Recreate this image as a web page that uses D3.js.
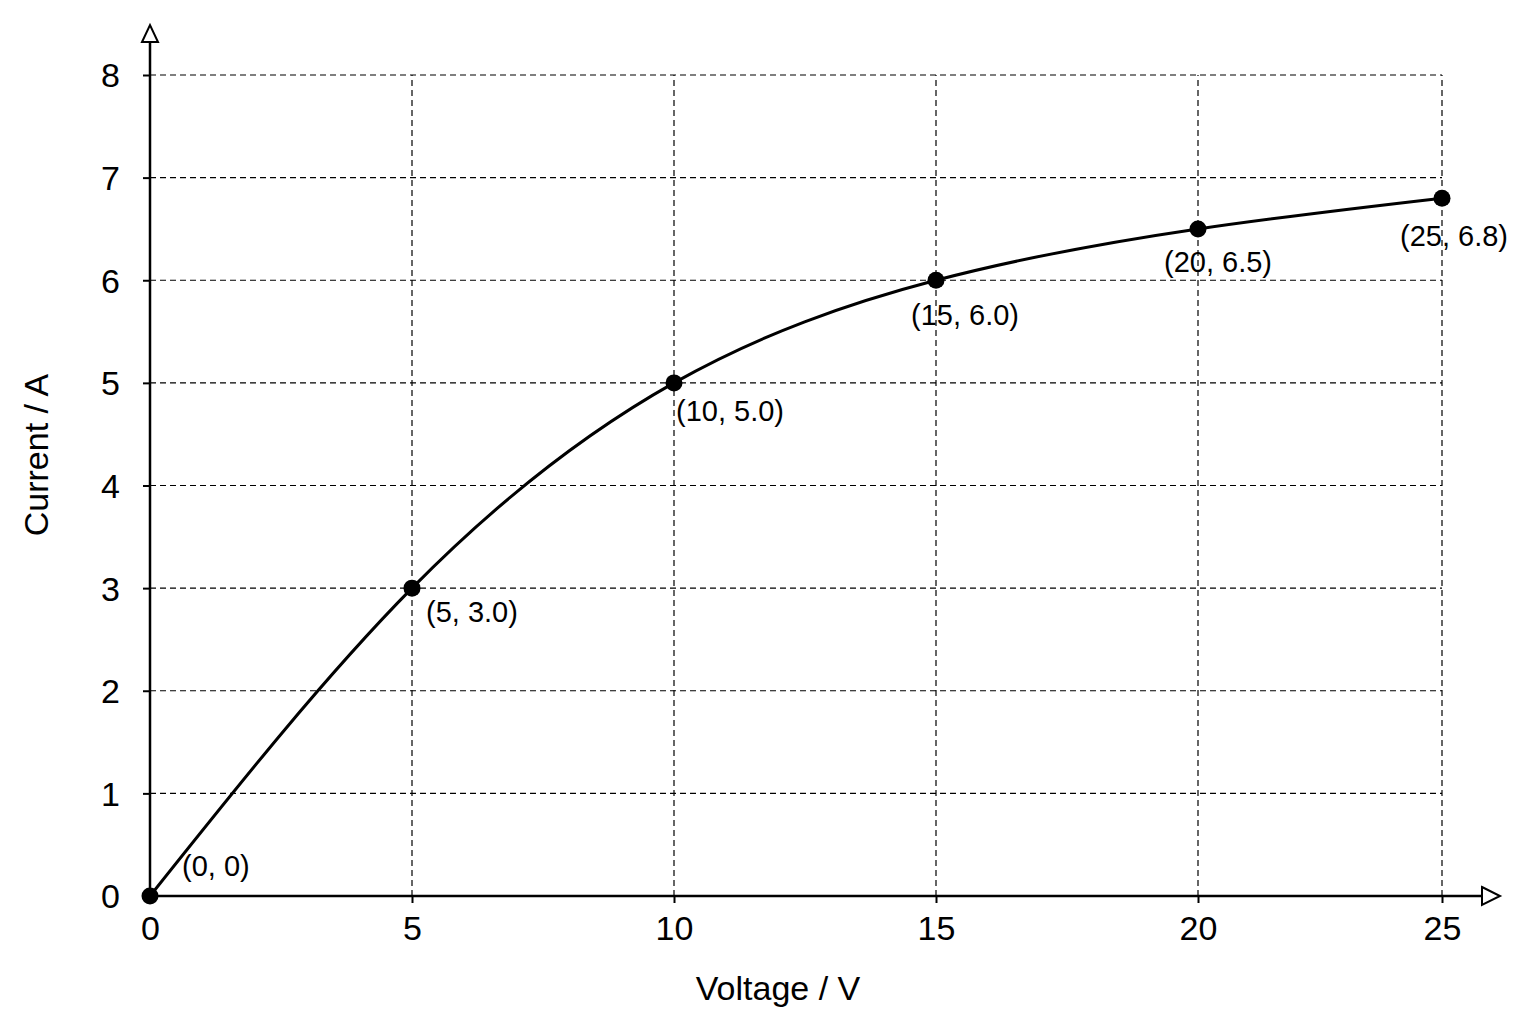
<!DOCTYPE html>
<html><head><meta charset="utf-8">
<script src="https://cdn.jsdelivr.net/npm/d3@7"></script>
<style>body{margin:0;background:#fff}svg{font-family:"Liberation Sans",Arial,sans-serif}</style>
</head><body><svg id="c" width="1536" height="1024"></svg>
<script>
const voltage = [0, 5, 10, 15, 20, 25];
const current = [0, 3.0, 5.0, 6.0, 6.5, 6.8];
const pointLabels = ["(0, 0)", "(5, 3.0)", "(10, 5.0)", "(15, 6.0)", "(20, 6.5)", "(25, 6.8)"];
const xTicks = [0, 5, 10, 15, 20, 25];
const yTicks = [0, 1, 2, 3, 4, 5, 6, 7, 8];

const svg = d3.select("#c");
const x = d3.scaleLinear().domain([0, 20, 25]).range([150, 1198, 1442]);
const y = d3.scaleLinear().domain([0, 8]).range([896, 75]);

const g = svg.append("g").attr("stroke", "#000").attr("stroke-width", 1.2).attr("stroke-dasharray", "6,4");
yTicks.filter(d => d > 0).forEach(d => g.append("line").attr("x1", x(0)).attr("x2", x(25)).attr("y1", y(d)).attr("y2", y(d)));
xTicks.filter(d => d > 0).forEach(d => g.append("line").attr("x1", x(d)).attr("x2", x(d)).attr("y1", y(0)).attr("y2", y(8)));

svg.append("line").attr("x1", x(0)).attr("x2", 1482).attr("y1", y(0)).attr("y2", y(0)).attr("stroke", "#000").attr("stroke-width", 2.5);
svg.append("line").attr("x1", x(0)).attr("x2", x(0)).attr("y1", y(0)).attr("y2", 42).attr("stroke", "#000").attr("stroke-width", 2.5);
svg.append("path").attr("d", `M1482,${y(0)-9}L1500,${y(0)}L1482,${y(0)+9}Z`).attr("fill", "#fff").attr("stroke", "#000").attr("stroke-width", 2);
svg.append("path").attr("d", `M${x(0)-8},42L${x(0)},25L${x(0)+8},42Z`).attr("fill", "#fff").attr("stroke", "#000").attr("stroke-width", 2);

const xAxis = svg.append("g").attr("transform", `translate(0,${y(0)})`).call(d3.axisBottom(x).tickValues(xTicks).tickSize(7).tickFormat(d3.format("d")));
const yAxis = svg.append("g").attr("transform", `translate(${x(0)},0)`).call(d3.axisLeft(y).tickValues(yTicks).tickSize(7).tickFormat(d3.format("d")));
[xAxis, yAxis].forEach(a => { a.select(".domain").remove(); a.selectAll("line").attr("stroke-width", 2); a.selectAll("text").attr("font-size", 34).attr("fill", "#000").attr("font-family", "Liberation Sans, Arial, sans-serif"); });
xAxis.selectAll("text").attr("dy", "1em");
yAxis.selectAll("text").attr("dy", "0.35em").attr("x", -30);

svg.append("text").attr("x", 778).attr("y", 1000).attr("text-anchor", "middle").attr("font-size", 34).text("Voltage / V");
svg.append("text").attr("transform", "translate(48,455) rotate(-90)").attr("text-anchor", "middle").attr("font-size", 34).text("Current / A");

const data = voltage.map((v, i) => ({v, c: current[i], l: pointLabels[i]}));
svg.append("path").datum(data).attr("fill", "none").attr("stroke", "#000").attr("stroke-width", 3)
  .attr("d", d3.line().x(d => x(d.v)).y(d => y(d.c)).curve(d3.curveNatural));
svg.selectAll("circle.p").data(data).join("circle").attr("cx", d => x(d.v)).attr("cy", d => y(d.c)).attr("r", 8.5).attr("fill", "#000");

const offs = [[32, -20], [14, 34], [2, 38], [-25, 45], [-34, 43], [-42, 48]];
svg.selectAll("text.l").data(data).join("text").attr("x", (d, i) => x(d.v) + offs[i][0]).attr("y", (d, i) => y(d.c) + offs[i][1])
  .attr("font-size", 29).text(d => d.l);
</script></body></html>
